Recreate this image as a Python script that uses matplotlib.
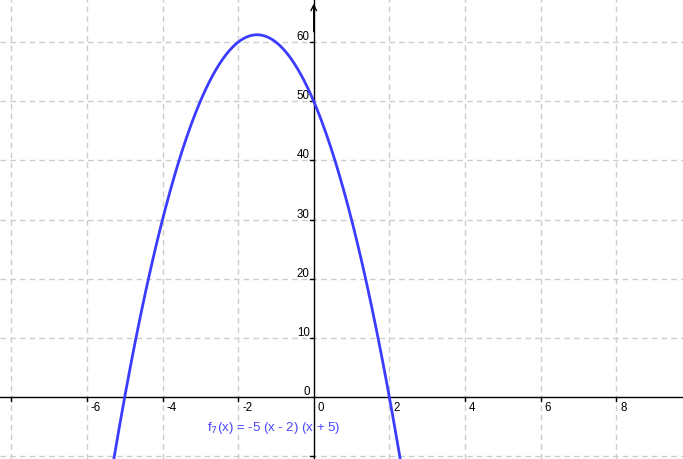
import numpy as np
import matplotlib
matplotlib.use('Agg')
import matplotlib.pyplot as plt

#%% data

a_coef = -5
root1 = 2
root2 = -5
func_label = r'f$_7$(x) = -5 (x - 2) (x + 5)'

x_ticks = [-8, -6, -4, -2, 0, 2, 4, 6, 8]
x_ticklabels = ['', '-6', '-4', '-2', '0', '2', '4', '6', '8']
y_ticks = [-10, 0, 10, 20, 30, 40, 50, 60]
y_ticklabels = ['', '0', '10', '20', '30', '40', '50', '60']

xlim = (-8.30, 9.77)
ylim = (-10.5, 67.3)

#%% plot

plt.rcParams['font.family'] = ['Liberation Sans', 'DejaVu Sans']

fig = plt.figure(figsize=(6.83, 4.60), dpi=100)
ax = fig.add_axes([0, 0, 1, 1])
ax.set_xlim(xlim)
ax.set_ylim(ylim)
ax.axis('off')

grid_col = '#cccccc'
for xv in x_ticks:
    if xv != 0:
        ax.axvline(xv, color=grid_col, lw=1, ls=(0, (4, 3)), zorder=0)
for yv in y_ticks:
    if yv != 0:
        ax.axhline(yv, color=grid_col, lw=1, ls=(0, (4, 3)), zorder=0)

# axes
ax.axhline(0, color='black', lw=1, zorder=2)
ax.axvline(0, color='black', lw=1, zorder=2)
ax.annotate('', xy=(0, ylim[1] - 0.3), xytext=(0, ylim[1] - 6),
            arrowprops=dict(arrowstyle='->', lw=1, color='black',
                            mutation_scale=10), zorder=3)

# ticks and labels
for xv, lab in zip(x_ticks, x_ticklabels):
    if xv != 0:
        ax.plot([xv, xv], [0, -0.7], color='black', lw=1, zorder=2)
    ax.annotate(lab, xy=(xv, 0), xytext=(4, -10), textcoords='offset pixels',
                ha='left', va='center', fontsize=8.3)
for yv, lab in zip(y_ticks, y_ticklabels):
    if yv != 0:
        ax.plot([0, -0.1], [yv, yv], color='black', lw=1, zorder=2)
    ax.annotate(lab, xy=(0, yv), xytext=(-4, 6), textcoords='offset pixels',
                ha='right', va='center', fontsize=8.3)

# function
x = np.linspace(-7, 4, 800)
y = a_coef * (x - root1) * (x - root2)
ax.plot(x, y, color='#3c3cff', lw=2, zorder=4)

ax.text(-2.82, -5.1, func_label, color='#4646ff', fontsize=9.5,
        ha='left', va='center')

fig.savefig('out.png', dpi=100)
